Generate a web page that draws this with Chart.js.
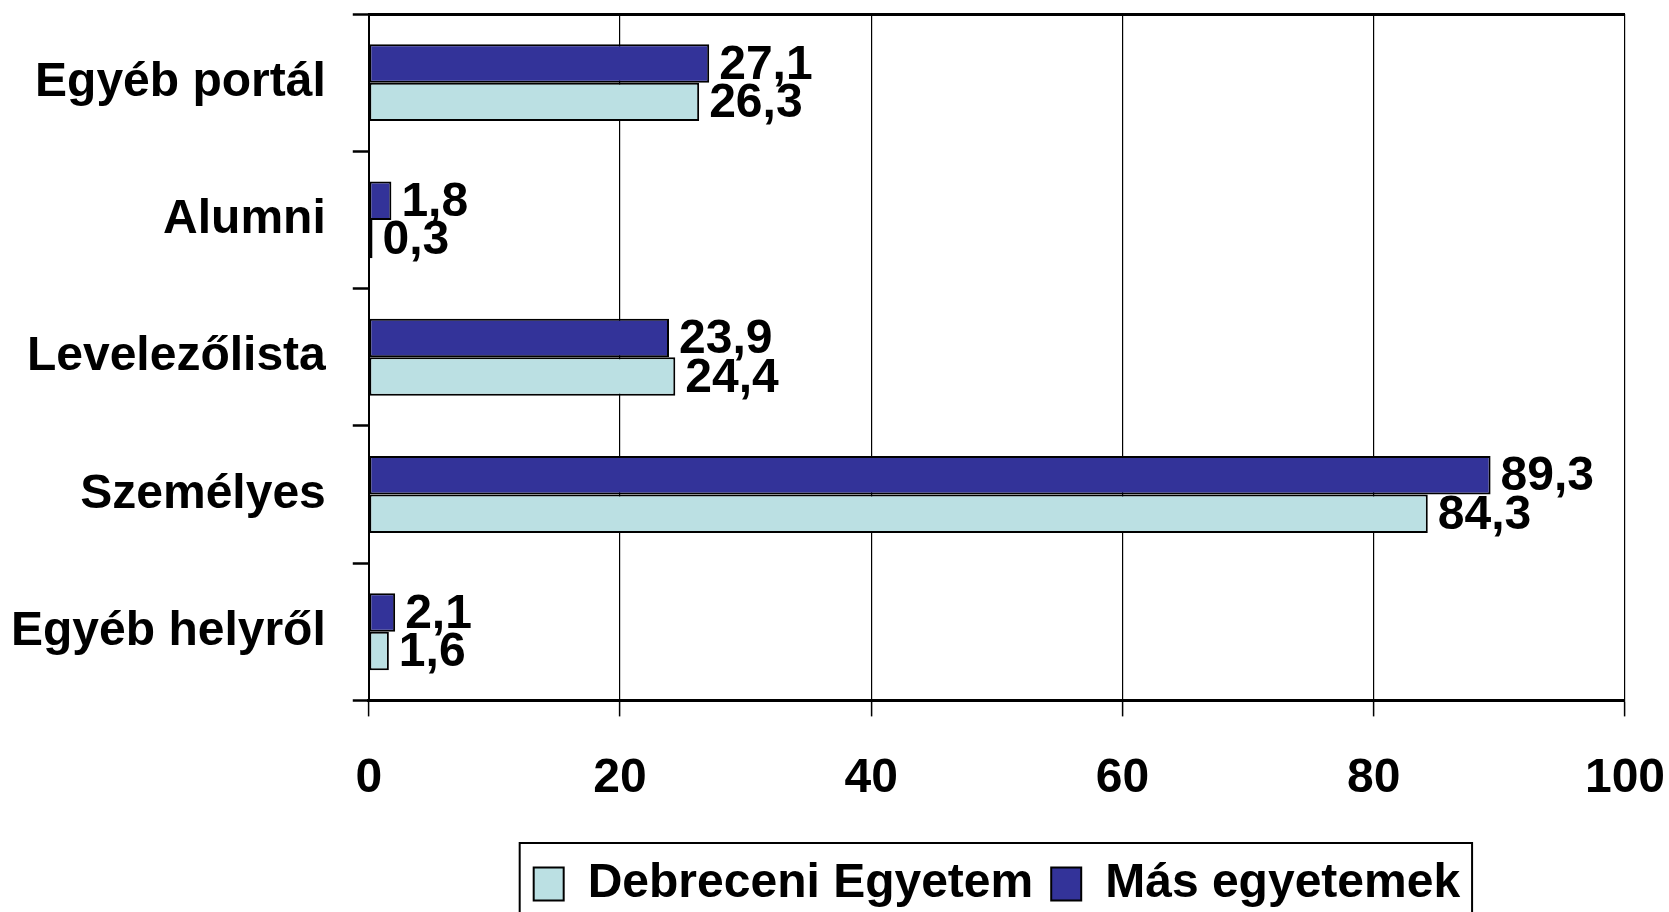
<!DOCTYPE html>
<html>
<head>
<meta charset="utf-8">
<script src="https://cdn.jsdelivr.net/npm/chart.js@4/dist/chart.umd.min.js"></script>
<style>
  html, body { margin: 0; padding: 0; background: #ffffff; }
  #wrap { width: 1669px; height: 912px; }
</style>
</head>
<body>
<div id="wrap"><canvas id="c" width="1669" height="912"></canvas></div>
<script>
const categories = ['Egyéb portál', 'Alumni', 'Levelezőlista', 'Személyes', 'Egyéb helyről'];
const masEgyetemek = [27.1, 1.8, 23.9, 89.3, 2.1];
const debreceniEgyetem = [26.3, 0.3, 24.4, 84.3, 1.6];
const seriesNames = ['Más egyetemek', 'Debreceni Egyetem'];
const xTicks = [0, 20, 40, 60, 80, 100];

const FONT = '"Liberation Sans", Arial, sans-serif';
const FS = 48;

const valueLabels = {
  id: 'valueLabels',
  afterDatasetsDraw(chart) {
    const ctx = chart.ctx;
    ctx.save();
    ctx.font = 'bold ' + FS + 'px ' + FONT;
    ctx.fillStyle = '#000';
    ctx.textAlign = 'left';
    ctx.textBaseline = 'middle';
    chart.data.datasets.forEach((ds, di) => {
      const meta = chart.getDatasetMeta(di);
      meta.data.forEach((bar, i) => {
        const txt = ds.data[i].toFixed(1).replace('.', ',');
        ctx.fillText(txt, bar.x + 10, bar.y + 2);
      });
    });
    ctx.restore();
  }
};

const legendFrame = {
  id: 'legendFrame',
  afterDraw(chart) {
    const boxes = chart.legend && chart.legend.legendHitBoxes;
    if (!boxes || !boxes.length) return;
    const left = Math.min(...boxes.map(b => b.left)) - 14;
    const right = Math.max(...boxes.map(b => b.left + b.width)) + 12;
    const top = Math.min(...boxes.map(b => b.top)) - 17;
    const ctx = chart.ctx;
    ctx.save();
    ctx.strokeStyle = '#000';
    ctx.lineWidth = 2;
    ctx.beginPath();
    ctx.moveTo(left, chart.height + 5);
    ctx.lineTo(left, top);
    ctx.lineTo(right, top);
    ctx.lineTo(right, chart.height + 5);
    ctx.stroke();
    ctx.restore();
  }
};

new Chart(document.getElementById('c'), {
  type: 'bar',
  data: {
    labels: categories,
    datasets: [
      {
        label: seriesNames[0],
        data: masEgyetemek,
        backgroundColor: '#333399',
        borderColor: '#000000',
        borderWidth: 2,
        borderSkipped: false
      },
      {
        label: seriesNames[1],
        data: debreceniEgyetem,
        backgroundColor: '#BBE0E3',
        borderColor: '#000000',
        borderWidth: 2,
        borderSkipped: false
      }
    ]
  },
  plugins: [valueLabels, legendFrame],
  options: {
    indexAxis: 'y',
    responsive: false,
    animation: false,
    categoryPercentage: 0.56,
    barPercentage: 1.0,
    layout: { padding: { left: -16, right: 44, top: 14, bottom: -6 } },
    plugins: {
      tooltip: { enabled: false },
      legend: {
        position: 'bottom',
        fullSize: false,
        reverse: true,
        labels: {
          color: '#000',
          font: { family: FONT, size: FS, weight: 'bold' },
          boxWidth: 30,
          boxHeight: 33,
          padding: 18
        }
      }
    },
    scales: {
      x: {
        min: 0,
        max: 100,
        afterBuildTicks(scale) { scale.ticks = xTicks.map(v => ({ value: v })); },
        afterFit(scale) { scale.paddingLeft = 0; scale.paddingRight = 0; },
        ticks: {
          color: '#000',
          font: { family: FONT, size: FS, weight: 'bold' },
          padding: 34,
          maxRotation: 0
        },
        grid: {
          color: '#000',
          lineWidth: 1.2,
          tickLength: 16,
          tickColor: '#000',
          tickWidth: 1.5
        },
        border: { display: true, color: '#000', width: 3 }
      },
      y: {
        afterFit(scale) { scale.paddingTop = 0; scale.paddingBottom = 0; },
        ticks: {
          color: '#000',
          font: { family: FONT, size: FS, weight: 'bold' },
          padding: 27
        },
        grid: {
          offset: true,
          drawOnChartArea: true,
          color: (ctx) => ctx.index === 0 ? '#000' : 'rgba(0,0,0,0)',
          lineWidth: 3,
          tickLength: 16,
          tickColor: '#000',
          tickWidth: 2.5
        },
        border: { display: true, color: '#000', width: 2 }
      }
    }
  }
});
</script>
</body>
</html>
